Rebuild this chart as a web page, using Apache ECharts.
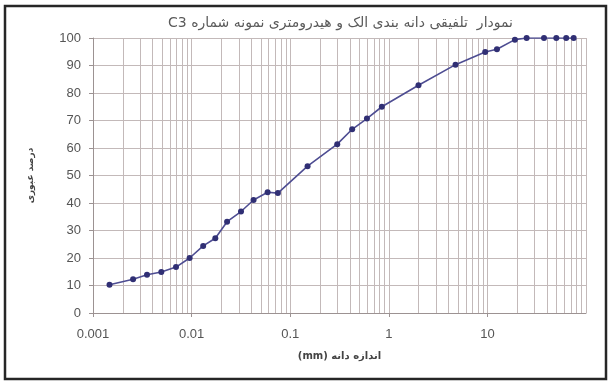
<!DOCTYPE html>
<html>
<head>
<meta charset="utf-8">
<script src="https://cdn.jsdelivr.net/npm/echarts@6/dist/echarts.min.js"></script>
<style>
  html, body { margin: 0; padding: 0; background: #fff; }
  #chart { width: 609px; height: 382px; }
</style>
</head>
<body>
<div id="chart"></div>
<script>
// Grain size (mm): hydrometer readings followed by sieve sizes
const grainSize = [
  0.00147, 0.00255, 0.00353, 0.00493, 0.00695, 0.00955, 0.0131, 0.0174,
  0.0229, 0.0317, 0.0425, 0.059,
  0.075, 0.15, 0.3, 0.425, 0.6, 0.85, 2, 4.75, 9.5, 12.5, 19, 25, 37.5, 50, 63, 75
];
// Percent passing for each grain size
const percentPassing = [
  10.3, 12.3, 13.9, 14.9, 16.7, 20.0, 24.4, 27.2,
  33.2, 36.9, 41.1, 43.9,
  43.6, 53.4, 61.4, 66.8, 70.7, 75.0, 82.8, 90.3, 94.9, 95.9, 99.4, 100, 100, 100, 100, 100
];
// Log axis decades and the intermediate steps inside each decade
const decades = [0.001, 0.01, 0.1, 1, 10];
const minorSteps = [2, 3, 4, 5, 6, 7, 8, 9];

const chartTitle = 'C3 ' + 'نمودار  تلفیقی دانه بندی الک و هیدرومتری نمونه شماره';
const xName = '(mm) ' + 'اندازه دانه';
const yName = 'درصد عبوری';

const gridColor = '#c3b9b9';
const axisColor = '#9c9292';
const labelColor = '#555';
const lineColor = '#4e4d92';
const pointColor = '#302f74';

const points = grainSize.map((s, i) => [s, percentPassing[i]]);
const minorValues = [];
decades.forEach(d => minorSteps.forEach(m => minorValues.push(+(d * m).toPrecision(3))));

const chart = echarts.init(document.getElementById('chart'), null, { renderer: 'canvas' });
chart.setOption({
  animation: false,
  backgroundColor: '#fff',
  title: {
    text: chartTitle,
    left: 163,
    top: 11,
    textStyle: { fontFamily: 'DejaVu Sans', fontSize: 14, fontWeight: 'normal', color: '#5a5a5a' }
  },
  grid: { left: 93, right: 23, top: 38, bottom: 69, containLabel: false },
  xAxis: {
    type: 'log',
    logBase: 10,
    min: 0.001,
    max: 100,
    name: xName,
    nameLocation: 'middle',
    nameGap: 38,
    nameTextStyle: { fontFamily: 'DejaVu Sans', fontSize: 10, fontWeight: 'bold', color: '#444' },
    axisLine: { show: true, lineStyle: { color: axisColor, width: 1 } },
    axisTick: { show: true, length: 4, lineStyle: { color: axisColor } },
    axisLabel: {
      showMaxLabel: false,
      margin: 15,
      fontFamily: 'Liberation Sans',
      fontSize: 13,
      color: labelColor,
      formatter: v => (v >= 100 ? '' : String(+(+v).toPrecision(3)))
    },
    splitLine: { show: true, lineStyle: { color: gridColor, width: 1 } }
  },
  yAxis: {
    type: 'value',
    min: 0,
    max: 100,
    interval: 10,
    name: yName,
    nameLocation: 'middle',
    nameRotate: 90,
    nameGap: 58,
    nameTextStyle: { fontFamily: 'DejaVu Sans', fontSize: 9, fontWeight: 'bold', color: '#444' },
    axisLine: { show: true, lineStyle: { color: axisColor, width: 1 } },
    axisTick: { show: true, length: 4, lineStyle: { color: axisColor } },
    axisLabel: { margin: 12, fontFamily: 'Liberation Sans', fontSize: 13, color: labelColor },
    splitLine: { show: true, lineStyle: { color: gridColor, width: 1 } }
  },
  graphic: [{
    type: 'rect',
    shape: { x: 5, y: 6, width: 601, height: 373 },
    style: { fill: 'none', stroke: '#262626', lineWidth: 2.5 },
    silent: true
  }],
  series: [
    {
      // intermediate log gridlines (2..9 within each decade)
      type: 'custom',
      silent: true,
      z: 1,
      data: minorValues.map(v => [v]),
      encode: { x: 0 },
      renderItem: (params, api) => {
        const v = api.value(0);
        const p0 = api.coord([v, 0]);
        const p1 = api.coord([v, 100]);
        return {
          type: 'line',
          shape: { x1: Math.round(p0[0]) + 0.5, y1: p0[1], x2: Math.round(p1[0]) + 0.5, y2: p1[1] },
          style: { stroke: gridColor, lineWidth: 1 }
        };
      }
    },
    {
      type: 'line',
      data: points,
      symbol: 'circle',
      symbolSize: 6,
      lineStyle: { color: lineColor, width: 1.6 },
      itemStyle: { color: pointColor },
      z: 5
    }
  ]
});
</script>
</body>
</html>
